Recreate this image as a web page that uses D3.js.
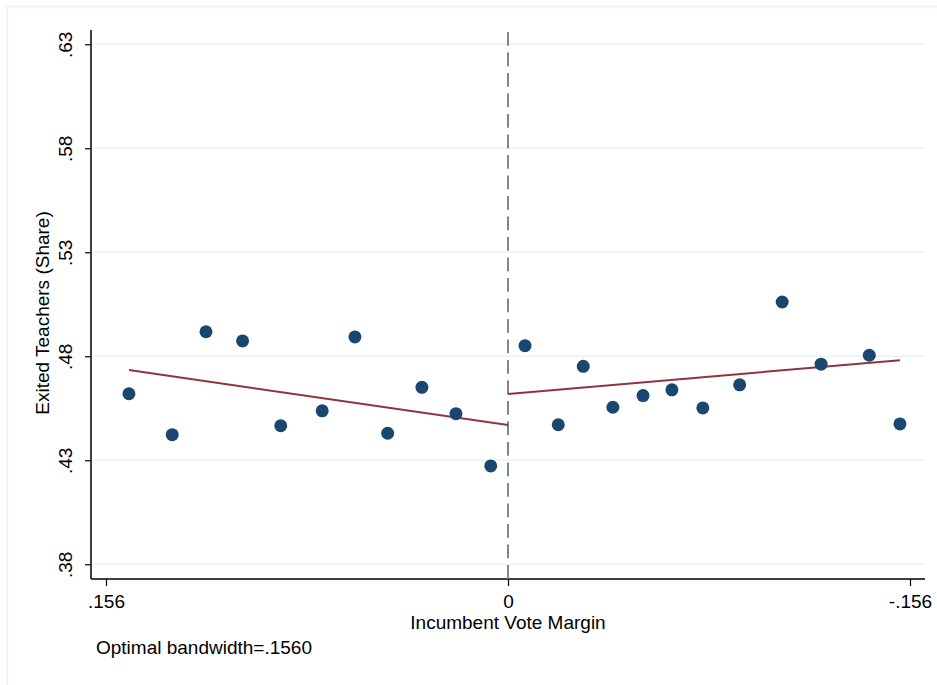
<!DOCTYPE html>
<html>
<head>
<meta charset="utf-8">
<script src="https://cdn.jsdelivr.net/npm/d3@7"></script>
<style>
  body { margin: 0; background: #fff; }
  text { font-family: "Liberation Sans", Arial, sans-serif; fill: #000; }
</style>
</head>
<body>
<svg width="937" height="685"></svg>
<script>
// binned means, left of cutoff (positive margin)
const leftX = [0.1471, 0.1303, 0.1172, 0.1030, 0.0882, 0.0721, 0.0594, 0.0467, 0.0334, 0.0202, 0.0067];
const leftY = [0.4620, 0.4423, 0.4918, 0.4874, 0.4466, 0.4538, 0.4893, 0.4430, 0.4651, 0.4524, 0.4273];
// binned means, right of cutoff (negative margin)
const rightX = [-0.0066, -0.0195, -0.0292, -0.0407, -0.0524, -0.0636, -0.0756, -0.0899, -0.1064, -0.1215, -0.1402, -0.1521];
const rightY = [0.4851, 0.4471, 0.4752, 0.4555, 0.4611, 0.4639, 0.4552, 0.4663, 0.5061, 0.4762, 0.4805, 0.4475];
// linear fits
const fitLeft = [[0.1471, 0.4734], [0, 0.4470]];
const fitRight = [[0, 0.4619], [-0.1521, 0.4781]];

const yTicks = [0.38, 0.43, 0.48, 0.53, 0.58, 0.63];
const xTicks = [0.156, 0, -0.156];

const svg = d3.select('svg');

// outer frame
svg.append('rect')
  .attr('x', 7.5).attr('y', 6.5)
  .attr('width', 940).attr('height', 700)
  .attr('fill', 'none')
  .attr('stroke', '#eaf2f3')
  .attr('stroke-width', 1.5);

const plotL = 91, plotR = 925, plotT = 30, plotB = 579;

const x = d3.scaleLinear().domain([0.156, -0.156]).range([106, 910]);
const y = d3.scaleLinear().domain([0.38, 0.63]).range([564.3, 44.3]);

// stata style labels: no leading zero, plain hyphen
const fmt = (s) => s.replace('\u2212', '-').replace(/^(-?)0\./, '$1.');

// grid
svg.append('g')
  .selectAll('line')
  .data(yTicks)
  .enter()
  .append('line')
  .attr('x1', plotL).attr('x2', plotR)
  .attr('y1', (d) => y(d)).attr('y2', (d) => y(d))
  .attr('stroke', '#eaf2f3')
  .attr('stroke-width', 1.5);

// y axis
const yAxis = svg.append('g')
  .attr('transform', `translate(${plotL}, 0)`)
  .call(d3.axisLeft(y).tickValues(yTicks).tickSize(6).tickFormat((d) => fmt(d3.format('.2f')(d))));
yAxis.select('.domain').attr('d', `M0,${plotT}V${plotB}`).attr('stroke', '#000').attr('stroke-width', 1.5);
yAxis.selectAll('.tick line').attr('stroke', '#000').attr('stroke-width', 1.2);
yAxis.selectAll('.tick text')
  .attr('font-size', 19)
  .attr('text-anchor', 'middle')
  .attr('x', 0).attr('dy', 0)
  .attr('transform', 'translate(-19, 0) rotate(-90)');

// x axis
const xAxis = svg.append('g')
  .attr('transform', `translate(0, ${plotB})`)
  .call(d3.axisBottom(x).tickValues(xTicks).tickSize(7).tickFormat((d) => d === 0 ? '0' : fmt(d3.format('.3f')(d))));
xAxis.select('.domain').attr('d', `M${plotL},0H${plotR}`).attr('stroke', '#000').attr('stroke-width', 1.5);
xAxis.selectAll('.tick line').attr('stroke', '#000').attr('stroke-width', 1.2);
xAxis.selectAll('.tick text').attr('font-size', 19).attr('y', 28.5).attr('dy', 0);

// cutoff
svg.append('line')
  .attr('x1', x(0)).attr('x2', x(0))
  .attr('y1', 32).attr('y2', plotB)
  .attr('stroke', '#858585')
  .attr('stroke-width', 2)
  .attr('stroke-dasharray', '13.7,6.8');

// fitted lines
const line = d3.line().x((d) => x(d[0])).y((d) => y(d[1]));
[fitLeft, fitRight].forEach((f) => {
  svg.append('path')
    .attr('d', line(f))
    .attr('fill', 'none')
    .attr('stroke', '#90353b')
    .attr('stroke-width', 2);
});

// points
const pts = leftX.map((v, i) => [v, leftY[i]]).concat(rightX.map((v, i) => [v, rightY[i]]));
svg.append('g')
  .selectAll('circle')
  .data(pts)
  .enter()
  .append('circle')
  .attr('cx', (d) => x(d[0]))
  .attr('cy', (d) => y(d[1]))
  .attr('r', 6.5)
  .attr('fill', '#1a476f');

// labels
svg.append('text')
  .attr('x', 508).attr('y', 629)
  .attr('text-anchor', 'middle')
  .attr('font-size', 19)
  .text('Incumbent Vote Margin');

svg.append('text')
  .attr('transform', 'translate(49, 313) rotate(-90)')
  .attr('text-anchor', 'middle')
  .attr('font-size', 19)
  .text('Exited Teachers (Share)');

svg.append('text')
  .attr('x', 96).attr('y', 654)
  .attr('font-size', 19)
  .text('Optimal bandwidth=.1560');
</script>
</body>
</html>
